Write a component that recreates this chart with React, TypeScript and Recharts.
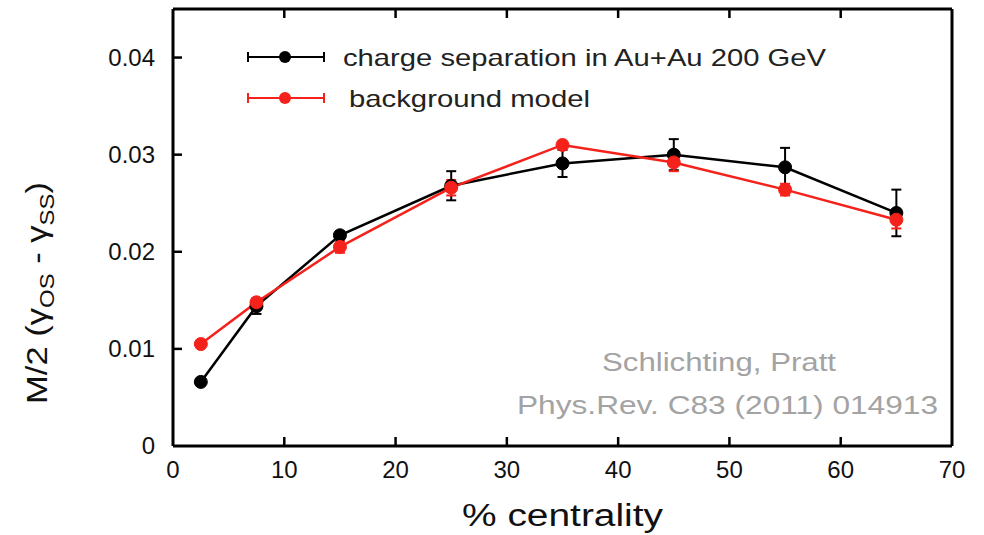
import { LineChart, Line, XAxis, YAxis, ErrorBar, Customized } from 'recharts';

const centrality = [2.5, 7.5, 15, 25, 35, 45, 55, 65];
const chargeSep = [0.0066, 0.0144, 0.0217, 0.0268, 0.0291, 0.03, 0.0287, 0.024];
const chargeSepErr = [0.0003, 0.0008, 0.0004, 0.0015, 0.0014, 0.0016, 0.002, 0.0024];
const background = [0.0105, 0.0148, 0.0205, 0.0266, 0.031, 0.0292, 0.0264, 0.0233];
const backgroundErr = [0.0002, 0.0004, 0.0006, 0.0008, 0.0002, 0.0009, 0.0006, 0.0009];

const xTicks = [0, 10, 20, 30, 40, 50, 60, 70];
const yTicks = [0, 0.01, 0.02, 0.03, 0.04];
const yTickLabels = ['0', '0.01', '0.02', '0.03', '0.04'];

const FONT = '"Liberation Sans", Arial, Helvetica, sans-serif';
const RED = '#f4221a';

const data = centrality.map((c, i) => ({
  c,
  sep: chargeSep[i],
  sepErr: chargeSepErr[i],
  bg: background[i],
  bgErr: backgroundErr[i],
}));

const BottomTick = (props: any) => {
  const { x, y, payload } = props;
  return (
    <g>
      {payload.value > 0 && payload.value < 70 && (
        <line x1={x} y1={y} x2={x} y2={y - 9} stroke="#000" strokeWidth={2.5} />
      )}
      <text x={x} y={y + 32} textAnchor="middle" fontSize={24} fontFamily={FONT} fill="#111">
        {payload.value}
      </text>
    </g>
  );
};

const TopTick = (props: any) => {
  const { x, y, payload } = props;
  if (payload.value <= 0 || payload.value >= 70) return <g />;
  return <line x1={x} y1={y} x2={x} y2={y + 9} stroke="#000" strokeWidth={2.5} />;
};

const LeftTick = (props: any) => {
  const { x, y, payload, index } = props;
  return (
    <g>
      {payload.value > 0 && <line x1={x} y1={y} x2={x + 9} y2={y} stroke="#000" strokeWidth={2.5} />}
      <text x={x - 18} y={y + 8} textAnchor="end" fontSize={24} fontFamily={FONT} fill="#111">
        {yTickLabels[index] ?? payload.value}
      </text>
    </g>
  );
};

const RightTick = (props: any) => {
  const { x, y, payload } = props;
  if (payload.value <= 0) return <g />;
  return <line x1={x} y1={y} x2={x - 9} y2={y} stroke="#000" strokeWidth={2.5} />;
};

const LegendKey = ({ y, color }: { y: number; color: string }) => (
  <g>
    <line x1={248} y1={y} x2={324} y2={y} stroke={color} strokeWidth={2} />
    <line x1={248} y1={y - 5} x2={248} y2={y + 5} stroke={color} strokeWidth={2} />
    <line x1={324} y1={y - 5} x2={324} y2={y + 5} stroke={color} strokeWidth={2} />
    <circle cx={285} cy={y} r={6} fill={color} />
  </g>
);

const Decorations = () => (
  <g fontFamily={FONT}>
    <LegendKey y={57} color="#000" />
    <text x={343} y={66} fontSize={24} fill="#222" textLength={483} lengthAdjust="spacingAndGlyphs">
      charge separation in Au+Au 200 GeV
    </text>
    <LegendKey y={98} color={RED} />
    <text x={349} y={107} fontSize={24} fill="#222" textLength={241} lengthAdjust="spacingAndGlyphs">
      background model
    </text>
    <text x={602} y={371} fontSize={25} fill="#a3a3a3" textLength={234} lengthAdjust="spacingAndGlyphs">
      Schlichting, Pratt
    </text>
    <text x={517} y={414} fontSize={25} fill="#a3a3a3" textLength={421} lengthAdjust="spacingAndGlyphs">
      Phys.Rev. C83 (2011) 014913
    </text>
    <text x={462} y={526} fontSize={31} fill="#111" textLength={201} lengthAdjust="spacingAndGlyphs">
      % centrality
    </text>
    <text
      x={0}
      y={0}
      transform="translate(47 293) rotate(-90)"
      textAnchor="middle"
      fontSize={29}
      fill="#111"
      textLength={222}
      lengthAdjust="spacingAndGlyphs"
    >
      M/2 (γ
      <tspan fontSize={20} dy={7}>OS</tspan>
      <tspan dy={-7}> - γ</tspan>
      <tspan fontSize={20} dy={7}>SS</tspan>
      <tspan dy={-7}>)</tspan>
    </text>
  </g>
);

const axisLine = { stroke: '#000', strokeWidth: 3 };

export default function App() {
  return (
    <div style={{ position: 'absolute', left: 0, top: 0, width: 984, height: 535, background: '#fff' }}>
      <LineChart width={984} height={535} data={data} margin={{ top: 8, right: 31, bottom: 49, left: 113 }}>
        <XAxis
          xAxisId="bottom"
          dataKey="c"
          type="number"
          domain={[0, 70]}
          ticks={xTicks}
          interval={0}
          height={40}
          tickSize={0}
          tickMargin={0}
          tickLine={false}
          axisLine={axisLine}
          tick={<BottomTick />}
        />
        <XAxis
          xAxisId="top"
          orientation="top"
          dataKey="c"
          type="number"
          domain={[0, 70]}
          ticks={xTicks}
          interval={0}
          height={1}
          tickSize={0}
          tickMargin={0}
          tickLine={false}
          axisLine={axisLine}
          tick={<TopTick />}
        />
        <YAxis
          yAxisId="left"
          type="number"
          domain={[0, 0.045]}
          ticks={yTicks}
          interval={0}
          width={60}
          tickSize={0}
          tickMargin={0}
          tickLine={false}
          axisLine={axisLine}
          tick={<LeftTick />}
        />
        <YAxis
          yAxisId="right"
          orientation="right"
          type="number"
          domain={[0, 0.045]}
          ticks={yTicks}
          interval={0}
          width={1}
          tickSize={0}
          tickMargin={0}
          tickLine={false}
          axisLine={axisLine}
          tick={<RightTick />}
        />
        <Line
          xAxisId="bottom"
          yAxisId="left"
          dataKey="sep"
          stroke="#000"
          strokeWidth={2.5}
          dot={{ r: 6.5, fill: '#000', stroke: '#000', strokeWidth: 1 }}
          activeDot={false}
          isAnimationActive={false}
        >
          <ErrorBar dataKey="sepErr" direction="y" width={5} stroke="#000" strokeWidth={2} isAnimationActive={false} />
        </Line>
        <Line
          xAxisId="bottom"
          yAxisId="left"
          dataKey="bg"
          stroke={RED}
          strokeWidth={2.5}
          dot={{ r: 6.5, fill: RED, stroke: RED, strokeWidth: 1 }}
          activeDot={false}
          isAnimationActive={false}
        >
          <ErrorBar dataKey="bgErr" direction="y" width={5} stroke={RED} strokeWidth={2} isAnimationActive={false} />
        </Line>
        <Customized component={<Decorations />} />
      </LineChart>
    </div>
  );
}
